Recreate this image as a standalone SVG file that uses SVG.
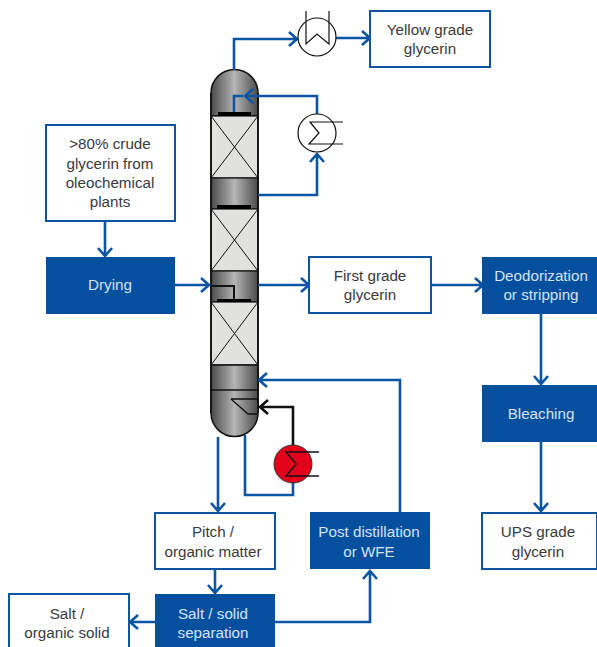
<svg xmlns="http://www.w3.org/2000/svg" width="597" height="647" viewBox="0 0 597 647">
<style>
text{font-family:"Liberation Sans",Arial,sans-serif;font-size:15.2px;text-anchor:middle}
.w{fill:#fff;stroke:#0b55a3;stroke-width:2}
.b{fill:#04509f}
.tw text{fill:#3a3a3a}
.tb text{fill:#d5e2f1}
.c{fill:none;stroke:#0b55a3;stroke-width:2.6}
.k{fill:none;stroke:#111;stroke-width:2}
.kk{fill:none;stroke:#111;stroke-width:2.6}
.ex{fill:none;stroke:#111;stroke-width:1}
.pk{fill:#e1e1df;stroke:#111;stroke-width:1.2}
</style>
<defs>
<linearGradient id="g" x1="0" x2="1" y1="0" y2="0">
<stop offset="0" stop-color="#4a4a4a"/><stop offset="0.5" stop-color="#b5b5b5"/><stop offset="1" stop-color="#4a4a4a"/>
</linearGradient>
</defs>
<g id="column">
<path d="M211 116V93a23.500 23.500 0 0 1 47 0V116Z" fill="url(#g)" stroke="#111" stroke-width="1.500"/>
<rect class="pk" x="211" y="116" width="47" height="62"/>
<rect x="211" y="178" width="47" height="31" fill="url(#g)" stroke="#111" stroke-width="1.200"/>
<rect class="pk" x="211" y="209" width="47" height="62"/>
<rect x="211" y="271" width="47" height="31" fill="url(#g)" stroke="#111" stroke-width="1.200"/>
<rect class="pk" x="211" y="302" width="47" height="63"/>
<path d="M211 365V413a23.500 23.500 0 0 0 47 0V365Z" fill="url(#g)" stroke="#111" stroke-width="1.500"/>
<path d="M211 93V413M258 93V413" fill="none" stroke="#111" stroke-width="1.800"/>
<path class="ex" d="M211 116L258 178M258 116L211 178M211 209L258 271M258 209L211 271M211 302L258 365M258 302L211 365"/>
<path d="M211 390H258" class="k" style="stroke-width:1.500"/>
<path d="M231 399H258M231 399L248 414H258" class="ex" style="stroke-width:1.300"/>
<rect x="218" y="112" width="33" height="4" fill="#000"/>
<rect x="217" y="205" width="34" height="4" fill="#000"/>
<rect x="217" y="299" width="34" height="3" fill="#000"/>
<path d="M212 286H234V299" class="k"/>
</g>
<g id="connectors">
<path class="c" d="M234 70V39H296M289 32l8 7-8 7M336 38H369M362 31l8 7-8 7"/>
<path class="c" d="M234 112V96H243M317 114V96H245M253 89l-8 7 8 7"/>
<path class="c" d="M258 195H317V154M310 162l7-8 7 8"/>
<path class="c" d="M175 285H208M201 278l8 7-8 7"/>
<path class="c" d="M258 285H308M301 278l8 7-8 7"/>
<path class="c" d="M431 285H482M475 278l8 7-8 7"/>
<path class="c" d="M105 221V256M98 248l7 8 7-8"/>
<path class="c" d="M541 314V384M534 376l7 8 7-8"/>
<path class="c" d="M541 442V511M534 503l7 8 7-8"/>
<path class="c" d="M400 513V380H260M267 373l-8 7 8 7"/>
<path class="c" d="M218 437V511M211 503l7 8 7-8"/>
<path class="c" d="M245 435V495H293V482"/>
<path class="c" d="M215 569V593M208 585l7 8 7-8"/>
<path class="c" d="M155 622H131M138 615l-8 7 8 7"/>
<path class="c" d="M275 622H370V571M363 579l7-8 7 8"/>
<path class="kk" d="M293 445V407H260M268 400l-8 7 8 7"/>
</g>
<g id="condenser">
<circle cx="317" cy="37" r="19" fill="#fff" stroke="#111" stroke-width="1.200"/>
<path class="ex" d="M306 11V44L317 34L329 44V11" style="stroke-width:1.200"/>
</g>
<g id="reboiler-top">
<circle cx="317" cy="133" r="19" fill="#fff" stroke="#111" stroke-width="1.200"/>
<path class="ex" d="M343 122H310L319 133L309 144H343" style="stroke-width:1.200"/>
</g>
<g id="reboiler-bottom">
<circle cx="293" cy="464" r="19" fill="#e2001a" stroke="#333" stroke-width="1"/>
<path class="k" style="stroke-width:1.500" d="M319 452H286L296 464L286 476H319"/>
</g>
<g id="feed" class="tw"><rect class="w" x="46" y="125" width="129" height="96"/>
<text x="110" y="149">&gt;80% crude</text><text x="110" y="169">glycerin from</text><text x="110" y="188">oleochemical</text><text x="110" y="207">plants</text></g>
<g id="drying" class="tb"><rect class="b" x="46" y="257" width="129" height="57"/><text x="110" y="290">Drying</text></g>
<g id="yellow" class="tw"><rect class="w" x="370" y="11" width="120" height="56"/><text x="430" y="35">Yellow grade</text><text x="430" y="54">glycerin</text></g>
<g id="first" class="tw"><rect class="w" x="309" y="257" width="122" height="56"/><text x="370" y="281">First grade</text><text x="370" y="300">glycerin</text></g>
<g id="deodorization" class="tb"><rect class="b" x="482" y="257" width="115" height="57"/><text x="541" y="281">Deodorization</text><text x="541" y="300">or stripping</text></g>
<g id="bleaching" class="tb"><rect class="b" x="482" y="385" width="115" height="57"/><text x="541" y="419">Bleaching</text></g>
<g id="ups" class="tw"><rect class="w" x="482" y="513" width="115" height="56"/><text x="538" y="537">UPS grade</text><text x="538" y="557">glycerin</text></g>
<g id="pitch" class="tw"><rect class="w" x="155" y="513" width="120" height="56"/><text x="213" y="537">Pitch /</text><text x="213" y="557">organic matter</text></g>
<g id="post" class="tb"><rect class="b" x="310" y="512" width="120" height="57"/><text x="369" y="537">Post distillation</text><text x="369" y="557">or WFE</text></g>
<g id="salt-sep" class="tb"><rect class="b" x="155" y="594" width="120" height="53"/><text x="213" y="619">Salt / solid</text><text x="213" y="638">separation</text></g>
<g id="salt" class="tw"><rect class="w" x="9" y="594" width="120" height="56"/><text x="67" y="619">Salt /</text><text x="67" y="638">organic solid</text></g>
</svg>
